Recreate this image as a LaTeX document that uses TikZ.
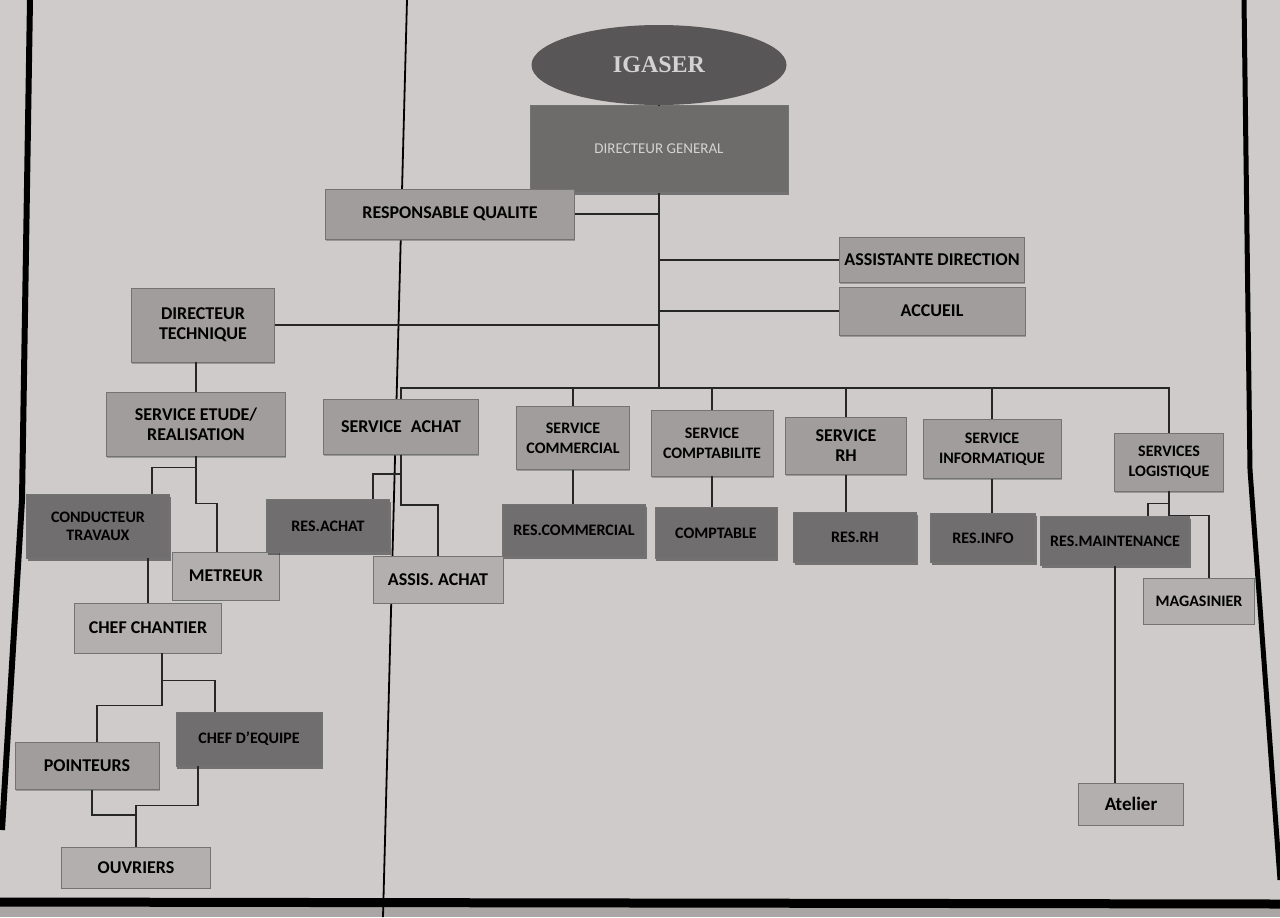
\documentclass[tikz,border=0pt]{standalone}
\usepackage{fontspec}
\setmainfont{Carlito}
\newfontfamily\titlefont{Liberation Serif}
\usepackage{tikz}
\usetikzlibrary{shapes.geometric,shadows}

\definecolor{paper}{RGB}{207,203,202}
\definecolor{strip}{RGB}{170,166,165}
\definecolor{boxlight}{RGB}{178,175,174}
\definecolor{boxmid}{RGB}{160,157,156}
\definecolor{boxdark}{RGB}{112,110,110}
\definecolor{dggray}{RGB}{110,107,107}
\definecolor{ovalgray}{RGB}{88,86,86}
\definecolor{paletext}{RGB}{212,210,210}

\tikzset{
  box/.style={rectangle, draw=black!55, line width=0.4pt, align=center, inner sep=1pt,
    font=\bfseries\fontsize{9}{10}\selectfont},
  lightbox/.style={box, fill=boxlight},
  midbox/.style={box, fill=boxmid, drop shadow={shadow xshift=0.4pt, shadow yshift=-0.8pt, fill=black!60}},
  darkbox/.style={box, fill=boxdark, font=\bfseries\fontsize{8}{9}\selectfont,
    drop shadow={shadow xshift=0.6pt, shadow yshift=-1.3pt, fill=black!90}},
  link/.style={line width=0.8pt, black!85},
}

\begin{document}
\begin{tikzpicture}[x=0.5pt,y=-0.5pt]
  \useasboundingbox (0,0) rectangle (1280,917);
  \fill[paper] (0,0) rectangle (1280,917);
  \fill[strip] (0,906) rectangle (1280,917);
  \draw[line width=3pt] (30,0) -- (22,500) -- (2,830);
  \draw[line width=2.5pt] (1244,0) -- (1250,470) -- (1280,880);
  \draw[line width=4.5pt] (0,902) -- (1280,904);
  \draw[line width=0.9pt] (407,0) -- (383,917);

  \node[ellipse, fill=ovalgray, minimum width=127.5pt, minimum height=40pt, text=paletext,
    font=\titlefont\bfseries\fontsize{12}{12}\selectfont] (IG) at (659,65) {IGASER};
  \node[box, fill=dggray, minimum width=129pt, minimum height=43.5pt, text=paletext,
    font=\fontsize{7.5}{8}\selectfont, drop shadow={shadow xshift=0.6pt, shadow yshift=-1.3pt, fill=black!90}] (DG) at (659,149) {DIRECTEUR GENERAL};
  \node[midbox, minimum width=124.5pt, minimum height=25pt] (RQ) at (450,214) {RESPONSABLE QUALITE};
  \node[midbox, minimum width=92.5pt, minimum height=22.5pt] (AD) at (932,260) {ASSISTANTE DIRECTION};
  \node[midbox, minimum width=93pt, minimum height=24pt] (ACC) at (932,311) {ACCUEIL};
  \node[midbox, minimum width=71.5pt, minimum height=37pt] (DT) at (203,325) {DIRECTEUR\\TECHNIQUE};

  \node[midbox, minimum width=89.5pt, minimum height=32pt] (SE) at (196,424) {SERVICE ETUDE/\\REALISATION};
  \node[midbox, minimum width=77.5pt, minimum height=27.5pt] (SA) at (401,427) {SERVICE\enspace ACHAT};
  \node[midbox, minimum width=56.5pt, minimum height=31.5pt, font=\bfseries\fontsize{8}{10}\selectfont] (SC) at (573,438) {SERVICE\\COMMERCIAL};
  \node[midbox, minimum width=61pt, minimum height=33pt, font=\bfseries\fontsize{8}{10}\selectfont] (SCP) at (712,443) {SERVICE\\COMPTABILITE};
  \node[midbox, minimum width=60.5pt, minimum height=28.5pt] (SRH) at (846,446) {SERVICE\\RH};
  \node[midbox, minimum width=69pt, minimum height=29.5pt, font=\bfseries\fontsize{8}{10}\selectfont] (SI) at (992,449) {SERVICE\\INFORMATIQUE};
  \node[midbox, minimum width=54.5pt, minimum height=29pt, font=\bfseries\fontsize{8}{10}\selectfont] (SL) at (1169,462) {SERVICES\\LOGISTIQUE};

  \node[darkbox, minimum width=71.5pt, minimum height=32pt] (CT) at (98,526) {CONDUCTEUR\\TRAVAUX};
  \node[lightbox, minimum width=53.5pt, minimum height=24pt] (MET) at (226,576) {METREUR};
  \node[darkbox, minimum width=61.5pt, minimum height=26.5pt] (RA) at (328,526) {RES.ACHAT};
  \node[lightbox, minimum width=65pt, minimum height=23.5pt] (AA) at (438,580) {ASSIS. ACHAT};
  \node[darkbox, minimum width=71.5pt, minimum height=26pt] (RC) at (574,530) {RES.COMMERCIAL};
  \node[darkbox, minimum width=61pt, minimum height=25.5pt] (CPT) at (716,533) {COMPTABLE};
  \node[darkbox, minimum width=61.5pt, minimum height=25pt] (RRH) at (855,537) {RES.RH};
  \node[darkbox, minimum width=52.5pt, minimum height=24.5pt] (RI) at (983,538) {RES.INFO};
  \node[darkbox, minimum width=74.5pt, minimum height=24.5pt] (RM) at (1115,541) {RES.MAINTENANCE};
  \node[lightbox, minimum width=55.5pt, minimum height=23pt, font=\bfseries\fontsize{8}{9}\selectfont] (MAG) at (1199,601) {MAGASINIER};
  \node[lightbox, minimum width=52.5pt, minimum height=21pt, font=\bfseries\fontsize{9.5}{10}\selectfont] (AT) at (1131,804) {Atelier};

  \node[lightbox, minimum width=73.5pt, minimum height=25pt] (CC) at (148,628) {CHEF CHANTIER};
  \node[midbox, minimum width=72pt, minimum height=23.5pt] (PT) at (87,766) {POINTEURS};
  \node[darkbox, minimum width=73pt, minimum height=27pt] (CE) at (249,739) {CHEF D'EQUIPE};
  \node[lightbox, minimum width=74.5pt, minimum height=20.5pt] (OUV) at (136,868) {OUVRIERS};

  \coordinate (bus) at (401,388);

  \draw[link] (IG.south) -- (DG.north);
  \draw[link] (DG.south) -- (DG.south |- bus);
  \draw[link] (RQ.east) -- (RQ.east -| DG.south);
  \draw[link] (AD.west) -- (AD.west -| DG.south);
  \draw[link] (ACC.west) -- (ACC.west -| DG.south);
  \draw[link] (DT.east) -- (DT.east -| DG.south);
  \draw[link] (SA.north) -- (bus) -| (SL.north);
  \foreach \s in {SC,SCP,SRH,SI}
    \draw[link] (\s.north) -- (\s.north |- bus);

  \draw[link] (SE.north |- DT.south) -- (SE.north);
  \draw[link] (SE.south) -- ++(0,11) -| ([xshift=27pt]CT.north);
  \draw[link] (SE.south) -- ++(0,47) -| ([xshift=-4.5pt]MET.north);
  \draw[link] (SA.south) -- ++(0,19) -| ([xshift=22.5pt]RA.north);
  \draw[link] (SA.south) -- ++(0,50) -| (AA.north);
  \draw[link] (SC.south) -- (SC.south |- RC.north);
  \draw[link] (SCP.south) -- (SCP.south |- CPT.north);
  \draw[link] (SRH.south) -- (SRH.south |- RRH.north);
  \draw[link] (SI.south) -- (SI.south |- RI.north);
  \draw[link] (SL.south) -- ++(0,12) -| ([xshift=16.5pt]RM.north);
  \draw[link] (SL.south) -- ++(0,24) -| ([xshift=5pt]MAG.north);
  \draw[link] (RM.south) -- (RM.south |- AT.north);

  \draw[link] (CC.north |- CT.south) -- (CC.north);
  \draw[link] ([xshift=7pt]CC.south) -- ++(0,27) -| ([xshift=-17pt]CE.north);
  \draw[link] ([xshift=7pt]CC.south) -- ++(0,52) -| ([xshift=5pt]PT.north);
  \draw[link] ([xshift=2.5pt]PT.south) -- ++(0,25) -| (OUV.north);
  \draw[link] ([xshift=-25.5pt]CE.south) -- ++(0,39) -| (OUV.north);
\end{tikzpicture}
\end{document}
